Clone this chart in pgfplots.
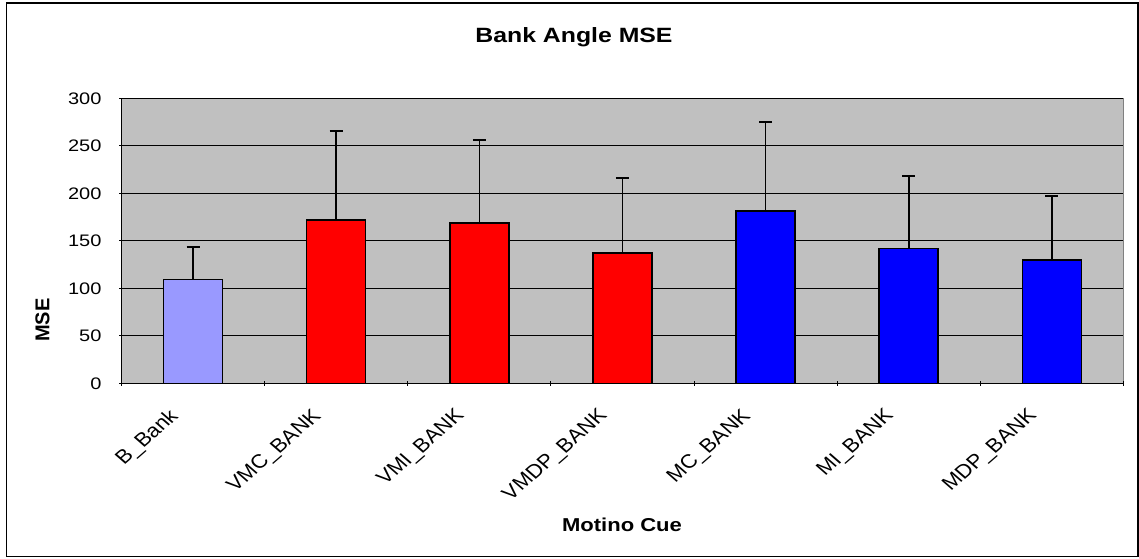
\documentclass[border=0pt]{standalone}
\usepackage{pgfplots}
\pgfplotsset{compat=1.18}
\usepackage{fontspec}
\setmainfont{Liberation Sans}

\definecolor{plotbg}{RGB}{192,192,192}
\definecolor{lightbar}{RGB}{153,153,255}
\definecolor{redbar}{RGB}{255,0,0}
\definecolor{bluebar}{RGB}{0,0,255}

% x = category position, y = MSE, err = upper error
\pgfplotstableread{
x y err
0 109.5 34.3
}\basebank
\pgfplotstableread{
x y err
1 171.9 93.7
2 169.0 87.0
3 137.5 78.9
}\visbank
\pgfplotstableread{
x y err
4 181.7 93.3
5 142.0 76.0
6 129.8 67.7
}\motbank

\pgfplotsset{
    upperr/.style={
        error bars/.cd,
        y dir=plus, y explicit,
        error mark=|,
        error mark options={black, mark size=4.9pt, line width=1.2pt},
        error bar style={black, line width=1.2pt},
    },
}

\begin{document}
\begin{tikzpicture}[x=1pt,y=1pt]
% page size and chart frame (1 px = 0.75pt)
\path (0,0) rectangle (854.25,418.5);
\draw[black, line width=1.2pt] (4.8,1.2) rectangle (853.5,416.2);

\begin{axis}[
    at={(91.1pt,131pt)}, anchor=south west,
    scale only axis,
    width=751.5pt, height=213.75pt,
    xmin=-0.5, xmax=6.5,
    ymin=0, ymax=300,
    ytick={0,50,...,300},
    xtick={0,...,6},
    xticklabels={B\_Bank,VMC\_BANK,VMI\_BANK,VMDP\_BANK,MC\_BANK,MI\_BANK,MDP\_BANK},
    minor xtick={-0.5,0.5,...,6.5},
    major x tick style={draw=none},
    tick align=outside,
    major tick length=3.5pt,
    minor tick length=3.5pt,
    tick style={black, line width=0.75pt},
    axis lines=left,
    axis line style={-, black, line width=1.2pt},
    axis background/.style={fill=plotbg, draw=gray, line width=1pt},
    ymajorgrids,
    grid style={black, line width=0.75pt},
    /pgf/number format/assume math mode=true,
    ticklabel style={font=\fontsize{12.5}{14}\selectfont},
    xticklabel style={font=\fontsize{14.5}{16}\selectfont,
        xshift=-19pt, yshift=-16pt, xscale=1.15, rotate=45,
        anchor=north east, inner sep=0pt},
    yticklabel style={xshift=-9pt, xscale=1.2},
    every axis plot/.append style={
        ybar, bar width=44.25pt, bar shift=0pt,
        draw=black, line width=1.2pt,
    },
]
\addplot[fill=lightbar, upperr] table[x=x, y=y, y error=err] {\basebank};
\addplot[fill=redbar, upperr] table[x=x, y=y, y error=err] {\visbank};
\addplot[fill=bluebar, upperr] table[x=x, y=y, y error=err] {\motbank};
\end{axis}

\node[font=\bfseries\fontsize{15.5}{18}\selectfont, xscale=1.2, anchor=base]
    at (430.5,386.25) {Bank Angle MSE};
\node[font=\bfseries\fontsize{15}{18}\selectfont, rotate=90]
    at (31.9,178.5) {MSE};
\node[font=\bfseries\fontsize{14}{16}\selectfont, xscale=1.18, anchor=base]
    at (466.5,19.7) {Motino Cue};
\end{tikzpicture}
\end{document}
